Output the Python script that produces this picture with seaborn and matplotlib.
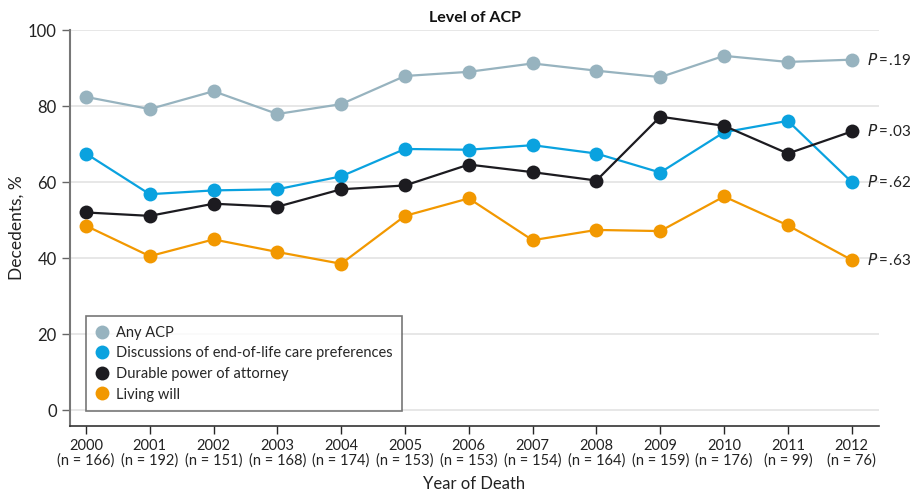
import matplotlib
matplotlib.use("Agg")
import matplotlib.pyplot as plt
import seaborn as sns
import pandas as pd

years = [2000, 2001, 2002, 2003, 2004, 2005, 2006, 2007, 2008, 2009, 2010, 2011, 2012]
n_counts = [166, 192, 151, 168, 174, 153, 153, 154, 164, 159, 176, 99, 76]

any_acp = [82.4, 79.2, 83.9, 77.9, 80.5, 87.9, 89.0, 91.2, 89.3, 87.6, 93.2, 91.6, 92.2]
discussions = [67.5, 56.8, 57.8, 58.1, 61.5, 68.7, 68.5, 69.7, 67.5, 62.5, 73.1, 76.1, 60.0]
durable_poa = [52.0, 51.1, 54.3, 53.5, 58.1, 59.1, 64.6, 62.6, 60.4, 77.2, 74.8, 67.5, 73.3]
living_will = [48.5, 40.5, 44.9, 41.6, 38.5, 51.1, 55.7, 44.7, 47.4, 47.1, 56.2, 48.6, 39.5]

series_names = ["Any ACP", "Discussions of end-of-life care preferences",
                "Durable power of attorney", "Living will"]
p_values = [".19", ".62", ".03", ".63"]
colors = ["#97b3bf", "#0aa2df", "#1c1b20", "#f29800"]

sns.set_theme(style="white")
plt.rcParams["font.family"] = ["Lato", "DejaVu Sans"]

# long table for seaborn
rows = []
for name, vals in zip(series_names, [any_acp, discussions, durable_poa, living_will]):
    for i, v in enumerate(vals):
        rows.append({"pos": i, "value": v, "series": name})
df = pd.DataFrame(rows)

fig = plt.figure(figsize=(9.11, 4.96), dpi=100)
ax = fig.add_axes([0.0768, 0.141, 0.8882, 0.7985])

sns.lineplot(data=df, x="pos", y="value", hue="series", hue_order=series_names,
             palette=colors, marker="o", markersize=10, markeredgewidth=0,
             linewidth=1.6, ax=ax, legend=True)

ax.set_xlim(-0.25, 12.43)
ax.set_ylim(-4.2, 100)
ax.set_yticks([0, 20, 40, 60, 80, 100])
ax.set_xticks(range(len(years)))
ax.set_xticklabels([f"{y}\n(n = {n})" for y, n in zip(years, n_counts)],
                   fontsize=10.5, linespacing=1.05, color="#222222")
ax.tick_params(axis="y", labelsize=12, colors="#222222", length=6, width=1, left=True)
ax.tick_params(axis="x", length=6, width=1, bottom=True, pad=3)
ax.tick_params(axis="y", color="#666666")
ax.grid(axis="y", color="#e3e3e3", linewidth=1.2)
ax.set_axisbelow(True)

for s in ["top", "right"]:
    ax.spines[s].set_visible(False)
ax.spines["left"].set_color("#777777")
ax.spines["left"].set_linewidth(1.5)
ax.spines["bottom"].set_color("#333333")
ax.spines["bottom"].set_linewidth(1.2)

ax.set_xlabel("Year of Death", fontsize=12, color="#222222", labelpad=6)
ax.set_ylabel("Decedents, %", fontsize=12.5, color="#222222", labelpad=2)
ax.set_title("Level of ACP", fontsize=11.5, fontweight="bold", color="#111111", pad=6)

# P-value labels to the right of the last points
last_vals = [any_acp[-1], discussions[-1], durable_poa[-1], living_will[-1]]
for v, p in zip(last_vals, p_values):
    ax.annotate(f"$\\it{{P}}$\u2009=\u2009{p}", xy=(12, v), xytext=(11, 0),
                textcoords="offset points", va="center", ha="left",
                fontsize=11, color="#222222", annotation_clip=False)

leg = ax.legend(loc="lower left", bbox_to_anchor=(0.02, 0.038), borderaxespad=0,
                frameon=True, fontsize=10.5, handlelength=0.9, handletextpad=0.5,
                borderpad=0.65, labelspacing=0.45, fancybox=False)
leg.get_frame().set_edgecolor("#555555")
leg.get_frame().set_linewidth(1.2)
for h in leg.legend_handles:
    h.set_linestyle("")
    h.set_marker("o")
    h.set_markersize(10)

fig.savefig("out.png", dpi=100)
